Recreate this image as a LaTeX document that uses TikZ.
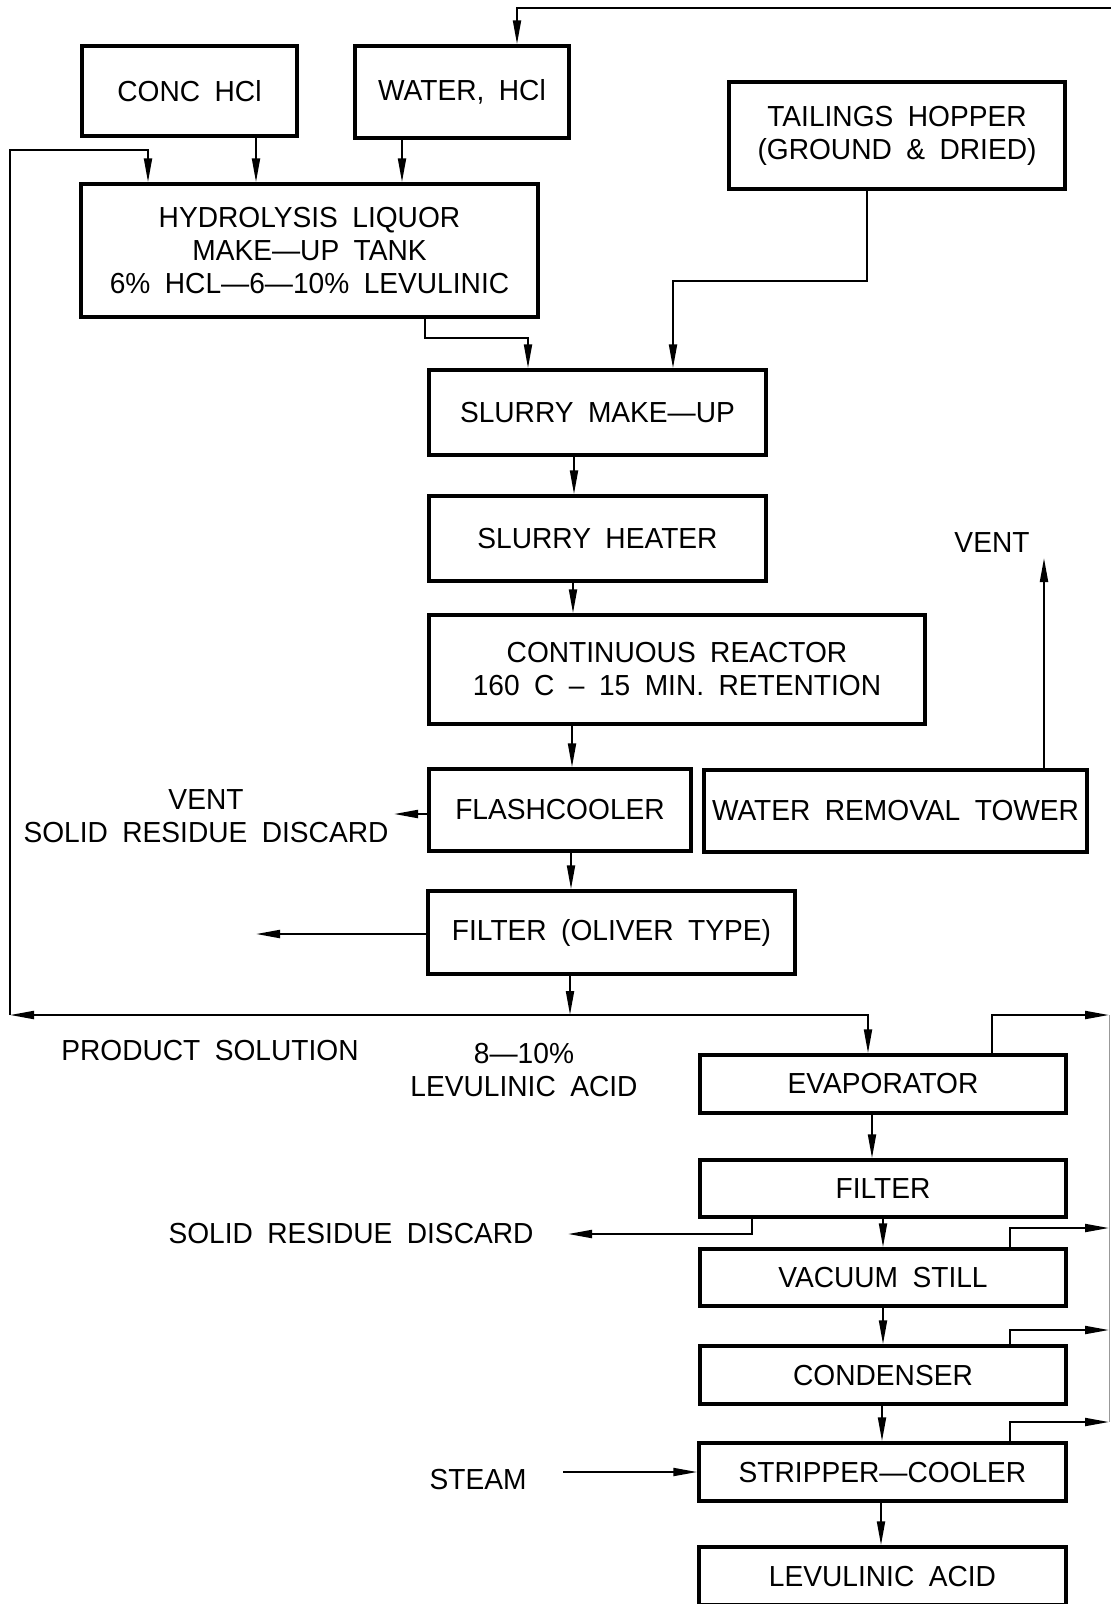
\documentclass[tikz,border=0pt]{standalone}
\usepackage{fontspec}
\setmainfont{Liberation Sans}[FakeStretch=0.97,WordSpace=1.85]
\usetikzlibrary{arrows.meta}

\begin{document}
\begin{tikzpicture}[x=1pt, y=-1pt, >={Triangle[length=24pt,width=8pt]},
	unit/.style={draw, line width=3.5pt, align=center, inner sep=0pt},
	flow/.style={line width=2pt},
	every node/.style={font=\fontsize{29}{33}\selectfont}]
	
	\useasboundingbox (0,0) rectangle (1111,1604);
	
	% Feed boxes
	\node[unit, minimum width=215pt, minimum height=90pt] (conc) at (189.5,91) {CONC HCl};
	\node[unit, minimum width=214pt, minimum height=92pt] (water) at (462,92) {WATER, HCl};
	\node[unit, minimum width=336pt, minimum height=107pt] (tail) at (897,135.5) {TAILINGS HOPPER\\(GROUND \& DRIED)};
	\node[unit, minimum width=457pt, minimum height=133pt] (hydro) at (309.5,250.5) {HYDROLYSIS LIQUOR\\MAKE---UP TANK\\6\% HCL---6---10\% LEVULINIC};
	
	% Main line
	\node[unit, minimum width=337pt, minimum height=85pt] (smake) at (597.5,412.5) {SLURRY MAKE---UP};
	\node[unit, minimum width=337pt, minimum height=85pt] (sheat) at (597.5,538.5) {SLURRY HEATER};
	\node[unit, minimum width=496pt, minimum height=109pt] (reactor) at (677,669.5) {CONTINUOUS REACTOR\\160 C -- 15 MIN. RETENTION};
	\node[unit, minimum width=262pt, minimum height=82pt] (flash) at (560,810) {FLASHCOOLER};
	\node[unit, minimum width=383pt, minimum height=82pt] (tower) at (895.5,811) {WATER REMOVAL TOWER};
	\node[unit, minimum width=367pt, minimum height=83pt] (oliver) at (611.5,932.5) {FILTER (OLIVER TYPE)};
	
	% Recovery line
	\node[unit, minimum width=366pt, minimum height=58pt] (evap) at (883,1084) {EVAPORATOR};
	\node[unit, minimum width=366pt, minimum height=57pt] (filt) at (883,1188.5) {FILTER};
	\node[unit, minimum width=366pt, minimum height=57pt] (vac) at (883,1277.5) {VACUUM STILL};
	\node[unit, minimum width=366pt, minimum height=58pt] (cond) at (883,1375) {CONDENSER};
	\node[unit, minimum width=367pt, minimum height=58pt] (strip) at (882.5,1472) {STRIPPER---COOLER};
	\node[unit, minimum width=367pt, minimum height=58pt] (lev) at (882.5,1576) {LEVULINIC ACID};
	
	% Labels
	\node[align=center] (flvent) at (206,816) {VENT\\SOLID RESIDUE DISCARD};
	\node (twvent) at (992,543) {VENT};
	\node (prod) at (210,1051) {PRODUCT SOLUTION};
	\node[align=center] (conc810) at (524,1070) {8---10\%\\LEVULINIC ACID};
	\node (resid) at (351,1234) {SOLID RESIDUE DISCARD};
	\node (steam) at (478,1479) {STEAM};
	
	% Free ends
	\coordinate (topin) at (1111,8);
	\coordinate (jn) at (570,1015);
	\coordinate (lc) at (10,1015);
	\coordinate (flend) at (394,814);
	\coordinate (olend) at (256,934);
	\coordinate (ventend) at (1044,558);
	\coordinate (resend) at (568,1234);
	\coordinate (evout) at (1109,1015);
	
	% Feeds into make-up tank
	\draw[flow,->] (topin) -| (517,0 |- water.north);
	\draw[flow,->] (256,0 |- conc.south) -- (256,0 |- hydro.north);
	\draw[flow,->] (402,0 |- water.south) -- (402,0 |- hydro.north);
	\draw[flow,->] (425,0 |- hydro.south) |- (528,338) -- (528,0 |- smake.north);
	\draw[flow,->] (867,0 |- tail.south) |- (673,281) -- (673,0 |- smake.north);
	
	% Down the main line
	\foreach \a/\b/\x in {smake/sheat/574, sheat/reactor/573, reactor/flash/572, flash/oliver/571}
	\draw[flow,->] (\x,0 |- \a.south) -- (\x,0 |- \b.north);
	
	\draw[flow,->] (flash.west |- flend) -- (flend);
	\draw[flow,->] (oliver.west |- olend) -- (olend);
	\draw[flow,->] (1044,0 |- tower.north) -- (ventend);
	
	% Product solution split
	\draw[flow,->] (570,0 |- oliver.south) -- (jn);
	\draw[flow,->] (jn) -- (lc);
	\draw[flow,->] (lc) -- (10,150) -| (148,0 |- hydro.north);
	\draw[flow,->] (jn) -| (868,0 |- evap.north);
	
	% Down the recovery line
	\foreach \a/\b/\x in {evap/filt/872, filt/vac/883, vac/cond/883, cond/strip/882, strip/lev/881}
	\draw[flow,->] (\x,0 |- \a.south) -- (\x,0 |- \b.north);
	
	\draw[flow,->] (752,0 |- filt.south) |- (resend);
	\draw[flow,->] (992,0 |- evap.north) |- (evout);
	\foreach \n/\y in {vac/1228, cond/1330, strip/1422}{
		\coordinate (out\n) at (1109,\y);
		\draw[flow,->] (1010,0 |- \n.north) |- (out\n);
	}
	\draw[line width=0.8pt, black!40] (evout) -- (outstrip);
	\draw[flow,->] (563,0 |- strip.west) -- (strip.west);
	
\end{tikzpicture}
\end{document}
